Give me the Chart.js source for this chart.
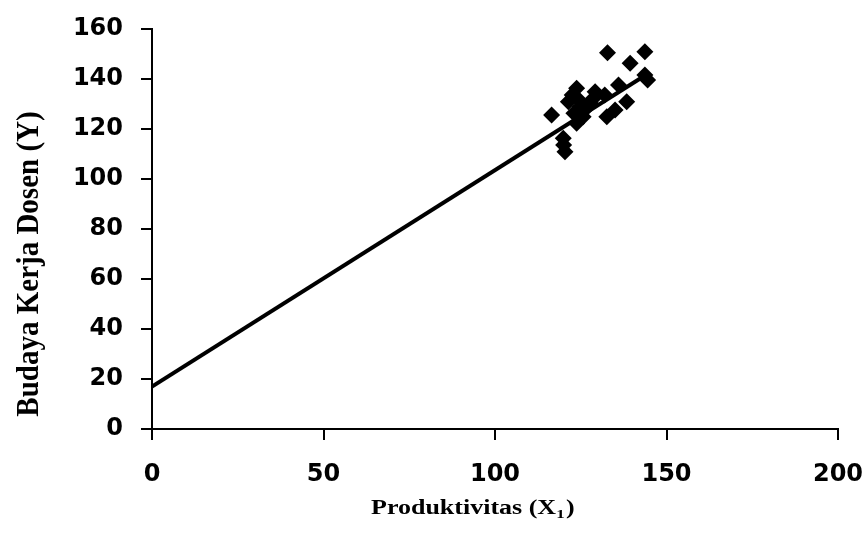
<!DOCTYPE html>
<html>
<head>
<meta charset="utf-8">
<script src="https://cdn.jsdelivr.net/npm/chart.js@4.4.0/dist/chart.umd.min.js"></script>
<style>
html,body{margin:0;padding:0;background:#fff;}
#wrap{width:867px;height:534px;position:relative;}
</style>
</head>
<body>
<div id="wrap"><canvas id="c" width="867" height="534"></canvas></div>
<script>
// Observed data (Produktivitas X1, Budaya Kerja Dosen Y)
const xValues = [132.8, 143.7, 139.4, 143.7, 144.5, 116.5, 119.9, 120.4, 120.0, 123.8, 122.5, 121.4, 124.8, 125.7, 123.8, 123.0, 129.2, 128.7, 132.0, 136.0, 138.4, 132.6, 135.0, 127.8, 124.5, 126.5];
const yValues = [150.5, 150.9, 146.3, 141.6, 139.6, 125.6, 116.3, 110.9, 113.6, 136.3, 133.6, 130.9, 128.9, 124.9, 122.3, 126.3, 134.9, 132.3, 133.6, 137.6, 130.9, 124.9, 127.6, 130.3, 131.6, 128.1];
// Regression line endpoints
const lineX = [0, 145];
const lineY = [17, 142.5];
const xTicks = [0, 50, 100, 150, 200];
const yTicks = [0, 20, 40, 60, 80, 100, 120, 140, 160];
const xTitle = 'Produktivitas (X';
const xTitleSub = '1';
const yTitle = 'Budaya Kerja Dosen (Y)';

const scatterData = xValues.map((x, i) => ({x: x, y: yValues[i]}));
const lineData = lineX.map((x, i) => ({x: x, y: lineY[i]}));

const tickFont = {family: '"DejaVu Sans", sans-serif', size: 24, weight: 'bold'};

const titlePlugin = {
  id: 'axisTitles',
  afterDraw(chart) {
    const ctx = chart.ctx;
    ctx.save();
    ctx.fillStyle = '#000';
    ctx.save();
    ctx.translate(371, 514);
    ctx.scale(1.3, 1);
    ctx.font = 'bold 20px "Liberation Serif", "Times New Roman", serif';
    ctx.textAlign = 'left';
    ctx.textBaseline = 'alphabetic';
    ctx.fillText(xTitle, 0, 0);
    let w = ctx.measureText(xTitle).width;
    ctx.font = 'bold 13px "Liberation Serif", "Times New Roman", serif';
    ctx.fillText(xTitleSub, w, 4);
    w += ctx.measureText(xTitleSub).width;
    ctx.font = 'bold 20px "Liberation Serif", "Times New Roman", serif';
    ctx.fillText(')', w + 1, 0);
    ctx.restore();
    ctx.save();
    ctx.translate(38, 264);
    ctx.rotate(-Math.PI / 2);
    ctx.scale(1, 1.12);
    ctx.font = 'bold 29px "Liberation Serif", "Times New Roman", serif';
    ctx.textAlign = 'center';
    ctx.textBaseline = 'alphabetic';
    ctx.fillText(yTitle, 0, 0);
    ctx.restore();
    ctx.restore();
  }
};

new Chart(document.getElementById('c'), {
  type: 'scatter',
  data: {
    datasets: [
      {
        type: 'line',
        data: lineData,
        borderColor: '#000',
        borderWidth: 4,
        pointRadius: 0,
        fill: false,
        order: 2
      },
      {
        type: 'scatter',
        data: scatterData,
        backgroundColor: '#000',
        borderColor: '#000',
        pointStyle: 'rectRot',
        pointRadius: 8.5,
        borderWidth: 0,
        order: 1
      }
    ]
  },
  options: {
    responsive: false,
    animation: false,
    events: [],
    layout: {padding: {top: 29, right: 29, left: 0, bottom: 0}},
    plugins: {legend: {display: false}, tooltip: {enabled: false}},
    scales: {
      x: {
        type: 'linear',
        min: 0, max: 200,
        afterBuildTicks: (s) => { s.ticks = xTicks.map(v => ({value: v})); },
        afterFit: (s) => { s.height = 105; s.paddingLeft = 0; s.paddingRight = 0; },
        ticks: {color: '#000', font: tickFont, padding: 20, maxRotation: 0},
        grid: {drawOnChartArea: false, drawTicks: true, tickLength: 11, color: '#000', lineWidth: 2},
        border: {color: '#000', width: 2},
        title: {display: false}
      },
      y: {
        type: 'linear',
        min: 0, max: 160,
        afterBuildTicks: (s) => { s.ticks = yTicks.map(v => ({value: v})); },
        afterFit: (s) => { s.width = 152; s.paddingTop = 0; s.paddingBottom = 0; },
        ticks: {color: '#000', font: tickFont, padding: 18},
        grid: {drawOnChartArea: false, drawTicks: true, tickLength: 11, color: '#000', lineWidth: 2},
        border: {color: '#000', width: 2},
        title: {display: false}
      }
    }
  },
  plugins: [titlePlugin]
});
</script>
</body>
</html>
